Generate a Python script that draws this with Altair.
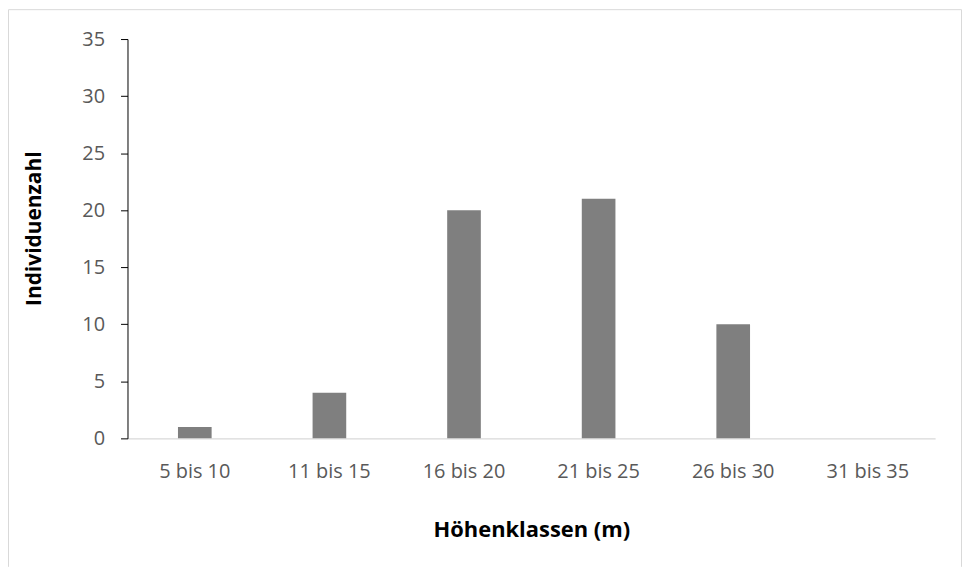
import altair as alt
import pandas as pd

# Data
klassen = ["5 bis 10", "11 bis 15", "16 bis 20", "21 bis 25", "26 bis 30", "31 bis 35"]
individuen = [1, 4, 20, 21, 10, 0]
y_ticks = [0, 5, 10, 15, 20, 25, 30, 35]

df = pd.DataFrame({"klasse": klassen, "anzahl": individuen})
frame_df = pd.DataFrame({"f": [0]})

FONT = "Open Sans"
LABEL_GRAY = "#595959"
FRAME_GRAY = "#d9d9d9"

bars = alt.Chart(df).mark_bar(color="#7f7f7f").encode(
    x=alt.X(
        "klasse:N",
        sort=klassen,
        scale=alt.Scale(paddingInner=0.75, paddingOuter=0.375),
        axis=alt.Axis(
            title="Höhenklassen (m)",
            labelAngle=0,
            ticks=False,
            tickSize=0,
            labelPadding=23,
            domainColor=FRAME_GRAY,
            domainWidth=1.3,
            labelColor=LABEL_GRAY,
            labelFont=FONT,
            labelFontSize=20,
            titleFont=FONT,
            titleFontSize=22,
            titleFontWeight="bold",
            titleColor="#000000",
            titleY=99,
            titleBaseline="alphabetic",
        ),
    ),
    y=alt.Y(
        "anzahl:Q",
        scale=alt.Scale(domain=[0, 35], nice=False),
        axis=alt.Axis(
            title="Individuenzahl",
            values=y_ticks,
            tickSize=7,
            tickColor="#000000",
            domainColor="#000000",
            labelPadding=16,
            labelColor=LABEL_GRAY,
            labelFont=FONT,
            labelFontSize=20,
            titleFont=FONT,
            titleFontSize=21,
            titleFontWeight="bold",
            titleColor="#000000",
            titleAngle=270,
            titleX=-87,
            titleY=190,
            titleBaseline="alphabetic",
            grid=False,
        ),
    ),
)

frame_base = alt.Chart(frame_df).mark_rule(color=FRAME_GRAY, strokeWidth=1)
frame_left = frame_base.encode(x=alt.value(-119.5), y=alt.value(-29.5), y2=alt.value(530))
frame_top = frame_base.encode(x=alt.value(-119.5), x2=alt.value(837.5), y=alt.value(-29.5))
frame_right = frame_base.encode(x=alt.value(837.5), y=alt.value(-29.5), y2=alt.value(530))

chart = alt.layer(frame_left, frame_top, frame_right, bars).properties(
    width=811,
    height=401,
    autosize=alt.AutoSizeParams(type="none"),
    padding={"left": 120, "top": 30, "right": 28, "bottom": 129},
).configure_view(stroke=None).configure_axis(grid=False)

chart.save("out.html", embed_options={"renderer": "svg", "actions": False})
